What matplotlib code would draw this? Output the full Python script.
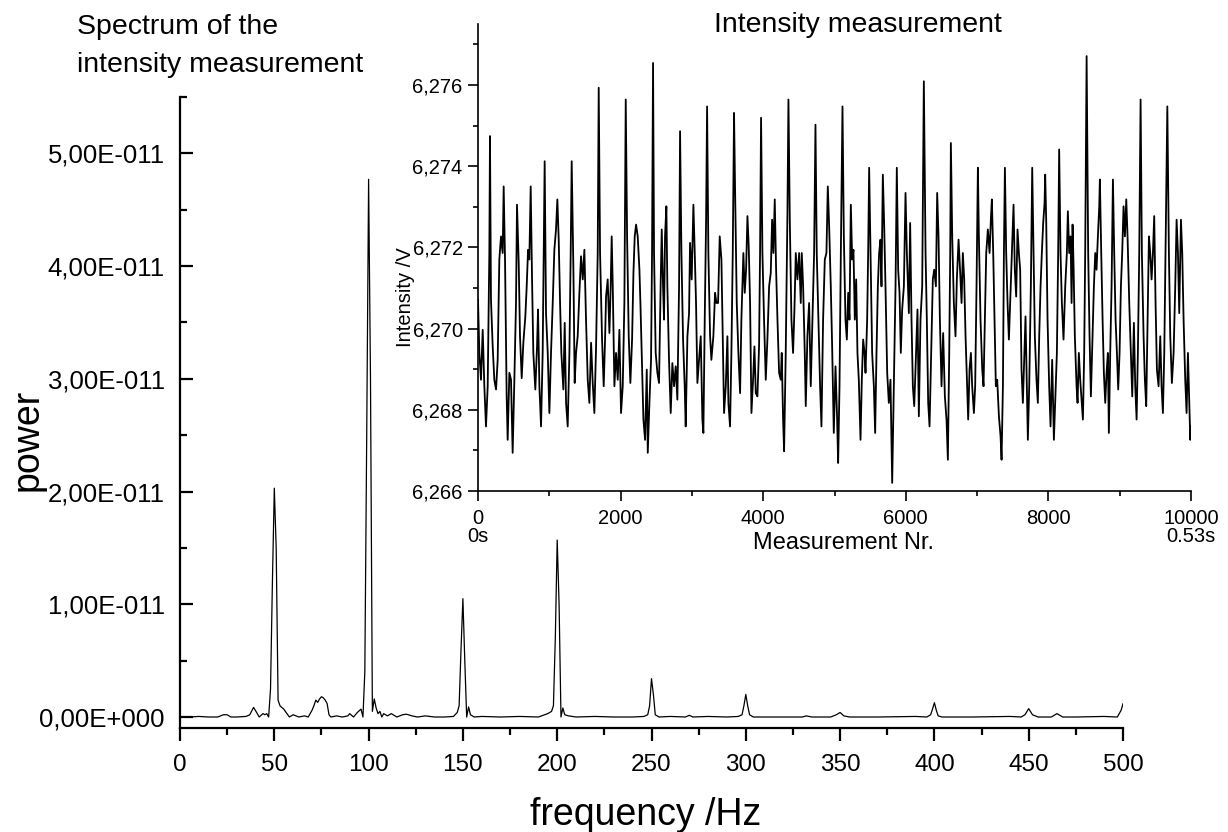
import numpy as np
import matplotlib
matplotlib.use("Agg")
import matplotlib.pyplot as plt
from matplotlib.ticker import MultipleLocator

plt.rcParams['font.family'] = ['Liberation Sans', 'DejaVu Sans']

# spectrum of the intensity measurement (power in units of 1e-11)
freq_hz = [0, 5, 10, 15, 20, 23, 25, 27, 30, 35, 37, 39, 41, 42, 44, 45, 46, 47, 48, 49,
           50, 51, 52, 53, 55, 58, 60, 63, 66, 68, 70, 71, 72, 73, 74, 75, 76, 77, 78, 79,
           80, 83, 86, 89, 90, 92, 94, 96, 97, 98, 99, 100, 101, 102, 103, 104, 105, 106, 107, 108,
           110, 112, 115, 118, 120, 123, 126, 130, 135, 140, 145, 147, 148, 149, 150, 151, 152, 153, 154, 156,
           160, 170, 180, 190, 195, 197, 198, 199, 200, 201, 202, 203, 204, 206, 210, 220, 230, 240, 246, 248,
           249, 250, 251, 252, 254, 260, 268, 270, 272, 280, 290, 296, 298, 299, 300, 301, 302, 304, 310, 320,
           330, 332, 335, 345, 348, 350, 352, 355, 370, 390, 396, 398, 399, 400, 401, 402, 404, 420, 440, 446,
           448, 450, 452, 455, 462, 465, 468, 475, 490, 497, 499, 500]
power_e11 = [0.0, 0.0, 0.005, 0.0, 0.0, 0.02, 0.02, 0.0, 0.0, 0.005, 0.02, 0.085, 0.03, 0.0, 0.03, 0.02, 0.03, 0.0, 0.25, 1.2,
             2.03, 1.5, 0.15, 0.1, 0.07, 0.0, 0.02, 0.0, 0.01, 0.0, 0.06, 0.1, 0.15, 0.13, 0.16, 0.18, 0.17, 0.15, 0.12, 0.02,
             0.0, 0.01, 0.0, 0.01, 0.03, 0.0, 0.04, 0.07, 0.0, 0.4, 2.5, 4.77, 3.0, 0.05, 0.16, 0.08, 0.03, 0.05, 0.0, 0.03,
             0.01, 0.03, 0.0, 0.02, 0.025, 0.01, 0.0, 0.01, 0.0, 0.0, 0.005, 0.04, 0.1, 0.6, 1.05, 0.5, 0.0, 0.09, 0.02, 0.0,
             0.005, 0.0, 0.005, 0.0, 0.03, 0.05, 0.1, 0.7, 1.57, 1.0, 0.0, 0.08, 0.02, 0.01, 0.0, 0.005, 0.0, 0.0, 0.005, 0.02,
             0.1, 0.34, 0.2, 0.02, 0.0, 0.005, 0.0, 0.015, 0.0, 0.005, 0.0, 0.005, 0.02, 0.1, 0.2, 0.1, 0.02, 0.0, 0.0, 0.0,
             0.0, 0.01, 0.0, 0.0, 0.02, 0.04, 0.01, 0.0, 0.0, 0.005, 0.0, 0.02, 0.07, 0.127, 0.06, 0.01, 0.0, 0.0, 0.005, 0.0,
             0.02, 0.074, 0.02, 0.0, 0.0, 0.03, 0.0, 0.0, 0.005, 0.0, 0.06, 0.118]

meas_nr = [0, 19, 42, 66, 89, 112, 136, 159, 168, 182, 206, 229, 253, 276, 299, 323, 346, 360, 379, 402,
           416, 440, 463, 486, 510, 533, 547, 571, 589, 613, 636, 664, 683, 702, 720, 739, 758, 776, 804, 828,
           842, 861, 884, 907, 921, 935, 954, 978, 1001, 1024, 1048, 1071, 1094, 1113, 1132, 1151, 1169, 1197, 1216, 1235,
           1258, 1282, 1300, 1314, 1338, 1356, 1375, 1398, 1422, 1445, 1469, 1492, 1515, 1539, 1562, 1586, 1609, 1632, 1656, 1679,
           1693, 1712, 1740, 1763, 1782, 1796, 1819, 1843, 1861, 1875, 1890, 1913, 1936, 1960, 1983, 2006, 2030, 2053, 2072, 2091,
           2114, 2137, 2161, 2180, 2198, 2217, 2240, 2264, 2278, 2296, 2320, 2343, 2367, 2381, 2404, 2427, 2441, 2455,
           2469, 2492, 2516, 2539, 2563, 2577, 2595, 2609, 2623, 2642, 2656, 2679, 2703, 2726, 2750, 2773, 2796, 2820, 2834, 2853,
           2876, 2899, 2913, 2937, 2960, 2974, 2997, 3021, 3040, 3058, 3077, 3100, 3124, 3147, 3161, 3180, 3199, 3213, 3231, 3255,
           3273, 3301, 3325, 3344, 3367, 3390, 3414, 3432, 3451, 3475, 3498, 3512, 3535, 3554, 3573, 3591, 3605, 3629, 3652, 3676,
           3694, 3708, 3722, 3741, 3760, 3779, 3797, 3816, 3835, 3858, 3877, 3896, 3919, 3942, 3956, 3970, 3989, 4012, 4036, 4059,
           4083, 4106, 4125, 4143, 4162, 4181, 4200, 4223, 4246, 4260, 4279, 4293, 4316, 4340, 4354, 4373, 4396, 4419, 4438, 4457,
           4480, 4504, 4527, 4541, 4560, 4583, 4597, 4620, 4644, 4667, 4691, 4714, 4733, 4751, 4775, 4798, 4817, 4840, 4864, 4887,
           4906, 4925, 4948,
           4967, 4990, 5014, 5037, 5051, 5070, 5089, 5112, 5131, 5154, 5173, 5192, 5210, 5229, 5248, 5266, 5285, 5304, 5322, 5341,
           5365, 5383, 5402, 5421, 5435, 5458, 5472, 5486, 5505, 5528, 5552, 5570, 5589, 5608, 5626, 5645, 5659, 5678, 5697, 5715,
           5739, 5762, 5785, 5809, 5832, 5856, 5874, 5893, 5912, 5930, 5949, 5973, 5996, 6015, 6043, 6061, 6080, 6099, 6118, 6136,
           6164, 6183, 6206, 6230, 6253, 6277, 6295, 6314, 6333, 6356, 6379, 6398, 6422, 6440, 6459, 6478, 6501, 6524, 6548, 6571,
           6590, 6609, 6623, 6632, 6651, 6674, 6697, 6716, 6740, 6763, 6782, 6800, 6819, 6838, 6861, 6875, 6894, 6913, 6931, 6955,
           6973, 6992, 7011, 7025, 7048, 7072, 7090, 7109, 7128, 7151, 7175, 7193, 7207, 7226, 7245, 7263, 7282, 7306, 7329, 7343,
           7362, 7376, 7390, 7408, 7427, 7446,
           7487, 7511, 7529, 7548, 7567, 7586, 7604, 7623, 7642, 7660, 7679, 7698, 7712, 7731, 7754, 7773, 7791, 7810, 7833, 7852,
           7871, 7890, 7908, 7927, 7946, 7955, 7969, 7988, 8011, 8030, 8053, 8077, 8095, 8119, 8137, 8151, 8170, 8189, 8212, 8236,
           8259, 8273, 8292, 8311, 8325, 8339, 8353, 8371, 8395, 8409, 8427, 8446, 8465, 8484, 8502, 8516, 8536, 8558, 8577, 8596,
           8619, 8638, 8657, 8675, 8694, 8713, 8722, 8741, 8760, 8778, 8797, 8816, 8834, 8848, 8867, 8886, 8905, 8923, 8942, 8961,
           8979, 8998, 9017, 9035, 9054, 9073, 9092, 9110, 9134, 9157, 9176, 9199, 9218, 9237, 9255, 9274, 9293, 9311, 9335, 9353,
           9372, 9391, 9410, 9428, 9447, 9466, 9484, 9503, 9522, 9545, 9569, 9587, 9606, 9625, 9643, 9668, 9690, 9709, 9732, 9756,
           9779, 9798, 9817, 9835, 9859, 9877, 9896, 9919, 9938, 9957, 9976, 9990, 10000]
intensity_v = [6.27071, 6.26940, 6.26874, 6.26997, 6.26858, 6.26759, 6.26858, 6.27186, 6.27474, 6.27071,
               6.26956, 6.26874, 6.26850, 6.26923, 6.27170, 6.27227, 6.27186, 6.27350, 6.27170, 6.26833,
               6.26726, 6.26891, 6.26874, 6.26694, 6.26874, 6.27063, 6.27305, 6.27162, 6.26981, 6.26878,
               6.26965, 6.27030, 6.27104, 6.27194, 6.27170, 6.27350, 6.27121, 6.26940, 6.26850, 6.26956,
               6.27047, 6.26858, 6.26759, 6.26940, 6.27186, 6.27412, 6.27038, 6.26940, 6.26792, 6.26940,
               6.27063, 6.27194, 6.27244, 6.27318, 6.27219, 6.27063, 6.26940, 6.26850, 6.27014, 6.26817,
               6.26759, 6.26940, 6.27186, 6.27412, 6.27145, 6.26866, 6.26940, 6.26981, 6.27088, 6.27178,
               6.27121, 6.27194, 6.27022, 6.26874, 6.26817, 6.26965, 6.26866, 6.26792, 6.26956, 6.27186,
               6.27593, 6.27186, 6.26973, 6.26858, 6.26973, 6.27079, 6.27121, 6.26989, 6.27104, 6.27227,
               6.27104, 6.26858, 6.26940, 6.26874, 6.26997, 6.26792, 6.26858, 6.27063, 6.27564, 6.27227,
               6.26981, 6.26866, 6.26973, 6.27137, 6.27227, 6.27256, 6.27227, 6.27145, 6.27063, 6.26940,
               6.26776, 6.26726, 6.26899, 6.26694, 6.26817, 6.26923, 6.27186, 6.27654,
               6.27186, 6.26940, 6.26891, 6.26866, 6.27121, 6.27244, 6.27104, 6.27022, 6.27227, 6.27301,
               6.27104, 6.26923, 6.26792, 6.26915, 6.26858, 6.26907, 6.26825, 6.27104, 6.27486, 6.27186,
               6.26973, 6.26858, 6.26759, 6.26981, 6.27038, 6.27211, 6.27121, 6.27305, 6.27186, 6.27063,
               6.26866, 6.26923, 6.26981, 6.26776, 6.26743, 6.27022, 6.27268, 6.27547, 6.27186, 6.26981,
               6.26923, 6.26981, 6.27088, 6.27063, 6.27063, 6.27227, 6.27170, 6.26989, 6.26792, 6.26858,
               6.26981, 6.26817, 6.26759, 6.26940, 6.27186, 6.27531, 6.27350, 6.27063, 6.26940, 6.26841,
               6.27022, 6.27104, 6.27186, 6.27088, 6.27145, 6.27277, 6.27203, 6.27063, 6.26792, 6.26874,
               6.26956, 6.26841, 6.26833, 6.26956, 6.27186, 6.27519, 6.27186, 6.27022, 6.26874, 6.26973,
               6.27104, 6.27137, 6.27268, 6.27186, 6.27318, 6.27145, 6.27022, 6.26891, 6.26874, 6.26940,
               6.26776, 6.26698, 6.26940, 6.27285, 6.27564, 6.27268, 6.27022, 6.26940, 6.27047, 6.27186,
               6.27121, 6.27186, 6.27063, 6.27186, 6.27104, 6.26940, 6.26809, 6.26981, 6.27063, 6.26858,
               6.27022, 6.27186, 6.27502, 6.27186, 6.27022, 6.26858, 6.26759, 6.27022, 6.27170, 6.27186,
               6.27350, 6.27252, 6.27104,
               6.26956, 6.26743, 6.26907, 6.26776, 6.26669, 6.26858, 6.27186, 6.27547, 6.27227, 6.27022,
               6.26973, 6.27088, 6.27022, 6.27305, 6.27170, 6.27194, 6.27022, 6.27121, 6.26940, 6.26874,
               6.26726, 6.26874, 6.26973, 6.26940, 6.26891, 6.27022, 6.27186, 6.27396, 6.27186, 6.26940,
               6.26858, 6.26743, 6.26940, 6.27104, 6.27186, 6.27219, 6.27104, 6.27379, 6.27252, 6.27104,
               6.26891, 6.26817, 6.26874, 6.26620, 6.26858, 6.27104, 6.27396, 6.27145, 6.27088, 6.26940,
               6.27047, 6.27104, 6.27334, 6.27186, 6.27038, 6.27260, 6.27022, 6.26858, 6.26809, 6.26899,
               6.27047, 6.26784, 6.27022, 6.27104, 6.27609, 6.27186, 6.27022, 6.26817, 6.26759, 6.26940,
               6.27121, 6.27145, 6.27104, 6.27334, 6.27227, 6.27022, 6.26858, 6.26989, 6.26833, 6.26776,
               6.26677, 6.26940, 6.27186, 6.27457, 6.27227, 6.27063, 6.26981, 6.27121, 6.27219, 6.27137,
               6.27063, 6.27186, 6.27121, 6.26981, 6.26858, 6.26776, 6.26899, 6.26940, 6.26858, 6.26792,
               6.26858, 6.27104, 6.27396, 6.27227, 6.27022, 6.26899, 6.26858, 6.27022, 6.27186, 6.27244,
               6.27186, 6.27268, 6.27318, 6.27186, 6.27022, 6.26858, 6.26874, 6.26784, 6.26735, 6.26677,
               6.26858, 6.27186, 6.27396, 6.27186, 6.27063, 6.26973,
               6.27186, 6.27305, 6.27145, 6.27079, 6.27244, 6.27186, 6.27145, 6.26899, 6.26817, 6.26923,
               6.27030, 6.26858, 6.26726, 6.26858, 6.27104, 6.27396, 6.27186, 6.26981, 6.26874, 6.26817,
               6.26981, 6.27104, 6.27186, 6.27260, 6.27309, 6.27379, 6.27268, 6.27022, 6.26858, 6.26759,
               6.26923, 6.26726, 6.26817, 6.26940, 6.27186, 6.27441, 6.27186, 6.27063, 6.26973, 6.27104,
               6.27186, 6.27289, 6.27186, 6.27227, 6.27063, 6.27256, 6.27153, 6.26981, 6.26858, 6.26817,
               6.26940, 6.26874, 6.26825, 6.26776, 6.26940, 6.27186, 6.27671, 6.27186, 6.26981, 6.26833,
               6.26981, 6.27104, 6.27186, 6.27145, 6.27227, 6.27301, 6.27367, 6.27186, 6.27022, 6.26891,
               6.26817, 6.26891, 6.26940, 6.26743, 6.26940, 6.27104, 6.27367, 6.27186, 6.27022, 6.26940,
               6.26850, 6.26940, 6.27104, 6.27186, 6.27301, 6.27227, 6.27318, 6.27227, 6.27063, 6.26940,
               6.26833, 6.27014, 6.26858, 6.26776, 6.26940, 6.27186, 6.27564, 6.27186, 6.26981, 6.26874,
               6.26809, 6.27022, 6.27227, 6.27186, 6.27121, 6.27186, 6.27277, 6.27063, 6.26899, 6.26858,
               6.26981, 6.26858, 6.26792, 6.26940, 6.27186, 6.27547, 6.27186, 6.26981, 6.26866, 6.26940,
               6.27104, 6.27268, 6.27186, 6.27038, 6.27268, 6.27186, 6.27022, 6.26874, 6.26792, 6.26940,
               6.26817, 6.26726, 6.26759]

freq_ticks = [0, 50, 100, 150, 200, 250, 300, 350, 400, 450, 500]
power_ticks = [0.0, 1e-11, 2e-11, 3e-11, 4e-11, 5e-11]
power_labels = ['0,00E+000', '1,00E-011', '2,00E-011', '3,00E-011', '4,00E-011', '5,00E-011']
int_ticks = [6.266, 6.268, 6.270, 6.272, 6.274, 6.276]
int_labels = ['6,266', '6,268', '6,270', '6,272', '6,274', '6,276']
meas_ticks = [0, 2000, 4000, 6000, 8000, 10000]
meas_labels = ['0\n0s', '2000', '4000', '6000', '8000', '10000\n0.53s']

fig = plt.figure(figsize=(12.28, 8.32), dpi=100)

# main spectrum axes
ax = fig.add_axes([180 / 1228, 104 / 832, 943 / 1228, 631 / 832])
ax.plot(freq_hz, np.array(power_e11) * 1e-11, color='black', lw=0.9)
ax.set_xlim(0, 500)
ax.set_ylim(-0.0975e-11, 5.5e-11)
for s in ['top', 'right']:
    ax.spines[s].set_visible(False)
for s in ['left', 'bottom']:
    ax.spines[s].set_linewidth(1.6)
ax.set_xticks(freq_ticks)
ax.set_xticklabels([str(t) for t in freq_ticks])
ax.xaxis.set_minor_locator(MultipleLocator(25))
ax.set_yticks(power_ticks)
ax.set_yticklabels(power_labels)
ax.yaxis.set_minor_locator(MultipleLocator(0.5e-11))
ax.tick_params(axis='x', which='major', direction='out', length=9.5, width=1.6, pad=9, labelsize=17.5)
ax.tick_params(axis='x', which='minor', direction='out', length=5, width=1.6)
ax.tick_params(axis='y', which='major', direction='in', length=9, width=1.6, pad=11, labelsize=18.5)
ax.tick_params(axis='y', which='minor', direction='in', length=5, width=1.6)

fig.text(28 / 1228, 1 - 440 / 832, 'power', rotation=90, ha='center', va='center', fontsize=27)
fig.text(646 / 1228, 1 - 825 / 832, 'frequency /Hz', ha='center', va='baseline', fontsize=27)
fig.text(77 / 1228, 1 - 34 / 832, 'Spectrum of the', ha='left', va='baseline', fontsize=20.5)
fig.text(77 / 1228, 1 - 71.5 / 832, 'intensity measurement', ha='left', va='baseline', fontsize=20.5)

# inset: raw intensity measurement
ins = fig.add_axes([478 / 1228, 341 / 832, 713 / 1228, 467 / 832])
ins.patch.set_alpha(0)
ins.plot(meas_nr, intensity_v, color='black', lw=1.3)
ins.set_xlim(0, 10000)
ins.set_ylim(6.266, 6.2775)
for s in ['top', 'right']:
    ins.spines[s].set_visible(False)
for s in ['left', 'bottom']:
    ins.spines[s].set_linewidth(1.2)
ins.set_xticks(meas_ticks)
ins.set_xticklabels(meas_labels)
for lbl in ins.get_xticklabels():
    lbl.set_linespacing(0.95)
ins.xaxis.set_minor_locator(MultipleLocator(1000))
ins.set_yticks(int_ticks)
ins.set_yticklabels(int_labels)
ins.yaxis.set_minor_locator(MultipleLocator(0.001))
ins.tick_params(axis='both', which='major', direction='out', length=7, width=1.2, labelsize=14.5)
ins.tick_params(axis='x', which='major', pad=6)
ins.tick_params(axis='y', which='major', pad=4)
ins.tick_params(axis='both', which='minor', direction='out', length=3.5, width=1.2)

ins.text(-0.1017, 0.415, 'Intensity /V', rotation=90, ha='center', va='center',
         fontsize=14.5, transform=ins.transAxes)
ins.text(0.512, -0.088, 'Measurement Nr.', ha='center', va='top', fontsize=17, transform=ins.transAxes)
fig.text(857.5 / 1228, 1 - 31.7 / 832, 'Intensity measurement', ha='center', va='baseline', fontsize=20.5)

fig.savefig('out.png', dpi=100)
